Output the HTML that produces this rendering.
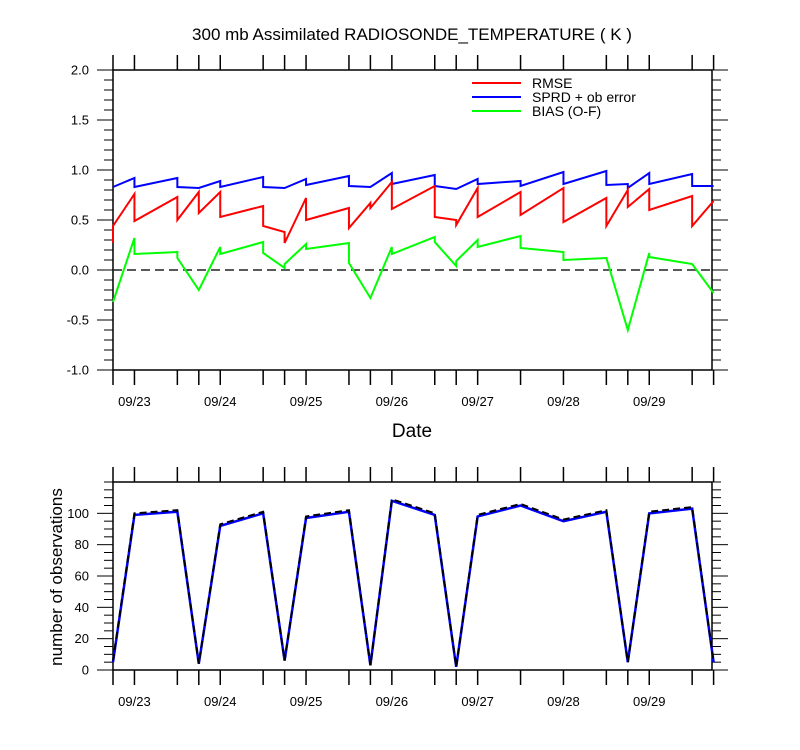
<!DOCTYPE html>
<html><head><meta charset="utf-8">
<style>
html,body{margin:0;padding:0;background:#fff;}
svg{display:block;font-family:"Liberation Sans",Arial,sans-serif;}
</style></head>
<body>
<svg id="chart" width="800" height="750" viewBox="0 0 800 750" xmlns="http://www.w3.org/2000/svg">
<rect width="800" height="750" fill="#fff"/>
<text x="412" y="40" font-size="17" text-anchor="middle">300 mb Assimilated RADIOSONDE_TEMPERATURE ( K )</text>
<g id="topPanel"></g>
<g id="botPanel"></g>
<text x="412" y="437" font-size="19" text-anchor="middle">Date</text>
<text x="0" y="0" font-size="17" text-anchor="middle" transform="translate(62,577) rotate(-90)">number of observations</text>
<g>
<line x1="472" y1="83" x2="521" y2="83" stroke="#ff0000" stroke-width="2"/>
<text x="532" y="88" font-size="14">RMSE</text>
<line x1="472" y1="97" x2="521" y2="97" stroke="#0000ff" stroke-width="2"/>
<text x="532" y="102" font-size="14">SPRD + ob error</text>
<line x1="472" y1="111" x2="521" y2="111" stroke="#00ff00" stroke-width="2"/>
<text x="532" y="116" font-size="14">BIAS (O-F)</text>
</g>
</svg>
<script>
// time index in 6-hour steps from 09/22 18Z
const times = [0,1,3,4,5,7,8,9,11,12,13,15,16,17,19,21,23,24,25,27,28];
const dayLabels = ["09/23","09/24","09/25","09/26","09/27","09/28","09/29"];
const dayTimes = [1,5,9,13,17,21,25];
// each entry: value before and after analysis at that time
const rmseA = [0.27,0.76,0.73,0.78,0.78,0.64,0.38,0.72,0.62,0.67,0.88,0.84,0.50,0.82,0.78,0.82,0.72,0.80,0.81,0.74,0.69];
const rmseB = [0.44,0.49,0.50,0.57,0.53,0.44,0.27,0.50,0.42,0.62,0.61,0.53,0.45,0.53,0.55,0.48,0.44,0.63,0.60,0.44,0.69];
const sprdA = [0.83,0.92,0.92,0.82,0.89,0.93,0.82,0.91,0.94,0.83,0.97,0.95,0.81,0.91,0.89,0.98,0.99,0.86,0.97,0.96,0.84];
const sprdB = [0.83,0.83,0.83,0.82,0.83,0.83,0.82,0.85,0.84,0.83,0.86,0.84,0.81,0.86,0.84,0.86,0.85,0.82,0.86,0.84,0.84];
const biasA = [-0.32,0.32,0.18,-0.20,0.23,0.28,0.02,0.26,0.27,-0.28,0.23,0.33,0.04,0.30,0.34,0.18,0.12,-0.60,0.17,0.06,-0.23];
const biasB = [-0.32,0.16,0.12,-0.20,0.16,0.17,0.06,0.21,0.07,-0.28,0.16,0.28,0.09,0.23,0.22,0.10,0.12,-0.60,0.13,0.06,-0.23];
const obsPossible = [6,100,102,4,93,101,6,98,102,3,109,100,2,99,106,96,102,5,101,104,5];
const obsUsed = [5,99,101,4,92,100,6,97,101,3,108,99,2,98,105,95,101,5,100,103,5];
const topTicks = [-1.0,-0.5,0.0,0.5,1.0,1.5,2.0];
const botTicks = [0,20,40,60,80,100];

const NS="http://www.w3.org/2000/svg";
const X0=113, X1=712;
function xs(t){return X0 + t*21.45;}
function yTop(v){return 270 - v*100;}
function yBot(v){return 670 - v*(188/120);}
function mk(parent,tag,attrs){const e=document.createElementNS(NS,tag);for(const k in attrs)e.setAttribute(k,attrs[k]);parent.appendChild(e);return e;}

function frame(g,yT,yB,scale,ticks,minStep,minV,maxV,fmt){
  mk(g,'rect',{x:X0,y:yT,width:X1-X0,height:yB-yT,fill:'none',stroke:'#000','stroke-width':1.5});
  times.forEach(t=>{
    const x=xs(t);
    mk(g,'line',{x1:x,y1:yT,x2:x,y2:yT-15,stroke:'#000','stroke-width':1.5});
    mk(g,'line',{x1:x,y1:yB,x2:x,y2:yB+15,stroke:'#000','stroke-width':1.5});
  });
  const n=Math.round((maxV-minV)/minStep);
  for(let k=0;k<=n;k++){
    const v=minV+k*minStep;
    const y=scale(v);
    const major=ticks.some(tk=>Math.abs(tk-v)<1e-6);
    const len=major?16:9;
    mk(g,'line',{x1:X0,y1:y,x2:X0-len,y2:y,stroke:'#000','stroke-width':1});
    mk(g,'line',{x1:X1,y1:y,x2:X1+len,y2:y,stroke:'#000','stroke-width':1});
  }
  ticks.forEach(v=>{
    const t=mk(g,'text',{x:89,y:scale(v)+4.5,'font-size':13,'text-anchor':'end'});
    
    
    t.textContent=fmt(v);
  });
  dayTimes.forEach((t,i)=>{
    const tx=mk(g,'text',{x:xs(t),y:yB+36,'font-size':13,'text-anchor':'middle'});
    
    
    tx.textContent=dayLabels[i];
  });
}

function pairLine(g,A,B,scale,color,name){
  let pts=[];
  times.forEach((t,i)=>{pts.push(xs(t)+','+scale(A[i]));pts.push(xs(t)+','+scale(B[i]));});
  const p=mk(g,'polyline',{points:pts.join(' '),fill:'none',stroke:color,'stroke-width':2});
  
  
}

const topG=document.getElementById('topPanel');
frame(topG,70,370,yTop,topTicks,0.1,-1.0,2.0,v=>v.toFixed(1));
const zl=mk(topG,'line',{x1:X0,y1:yTop(0),x2:X1,y2:yTop(0),stroke:'#222','stroke-width':1.5,'stroke-dasharray':'9,5'});


pairLine(topG,biasA,biasB,yTop,'#00ff00','bias-line');
pairLine(topG,sprdA,sprdB,yTop,'#0000ff','sprd-line');
pairLine(topG,rmseA,rmseB,yTop,'#ff0000','rmse-line');

const botG=document.getElementById('botPanel');
frame(botG,482,670,yBot,botTicks,5,0,120,v=>String(v));
function simpleLine(g,V,color,dash,name,w){
  const pts=times.map((t,i)=>xs(t)+','+yBot(V[i])).join(' ');
  const a={points:pts,fill:'none',stroke:color,'stroke-width':w};
  if(dash)a['stroke-dasharray']=dash;
  const p=mk(g,'polyline',a);
  
  
}
simpleLine(botG,obsUsed,'#0000ff',null,'obs-used-line',2.5);
simpleLine(botG,obsPossible,'#000',"7,4",'obs-possible-line',2);
</script>
</body></html>
